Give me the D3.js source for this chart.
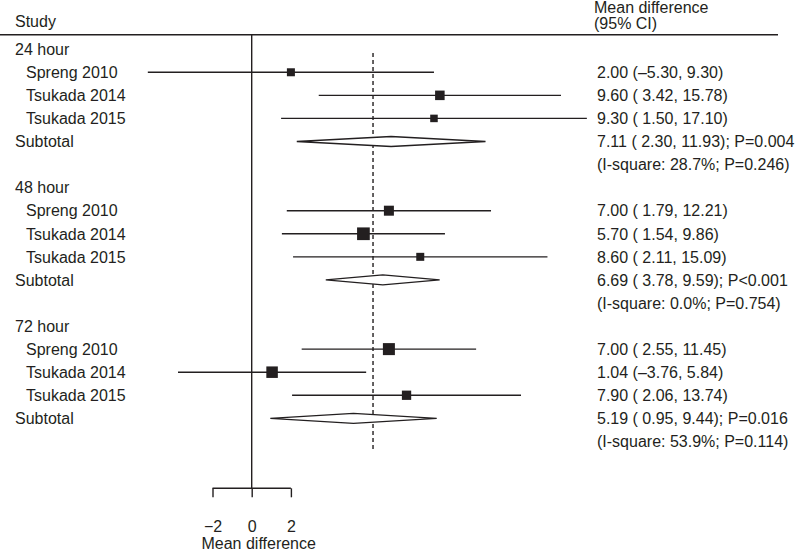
<!DOCTYPE html>
<html>
<head>
<meta charset="utf-8">
<script src="https://cdn.jsdelivr.net/npm/d3@7"></script>
<style>
  body { margin: 0; background: #fff; }
  svg { font-family: "Liberation Sans", Arial, Helvetica, sans-serif; }
</style>
</head>
<body>
<svg id="chart" width="800" height="550"></svg>
<script>
// groups and studies
const groups = ["24 hour", "48 hour", "72 hour"];
const studies = ["Spreng 2010", "Tsukada 2014", "Tsukada 2015"];

// study estimates per group (mean difference, lower, upper)
const studyMean = [[2.00, 9.60, 9.30], [7.00, 5.70, 8.60], [7.00, 1.04, 7.90]];
const studyLower = [[-5.30, 3.42, 1.50], [1.79, 1.54, 2.11], [2.55, -3.76, 2.06]];
const studyUpper = [[9.30, 15.78, 17.10], [12.21, 9.86, 15.09], [11.45, 5.84, 13.74]];
const studyWeight = [[7.1, 10.1, 6.3], [11.1, 17.9, 7.1], [16.0, 14.7, 9.6]];

// subtotals per group
const subMean = [7.11, 6.69, 5.19];
const subLower = [2.30, 3.78, 0.95];
const subUpper = [11.93, 9.59, 9.44];
const subP = ["P=0.004", "P<0.001", "P=0.016"];
const iSquare = ["28.7%", "0.0%", "53.9%"];
const hetP = ["0.246", "0.754", "0.114"];

const overall = 6.19;
const tickValues = [-2, 0, 2];

const fmt = d3.format(".2f");
const ciText = (m, l, u) => {
  const f = v => v < 0 ? "\u2013" + fmt(-v) : " " + fmt(v);
  return fmt(m) + " (" + f(l) + ", " + fmt(u) + ")";
};

const svg = d3.select("#chart");
const ink = "#231f20";
const fontSize = 16;

const x = d3.scaleLinear().domain([0, 10]).range([251.7, 447.7]);
const rowY = d3.scaleLinear().domain([0, 1]).range([49.2, 72.27]);
const sq = d3.scaleSqrt().domain([0, 100]).range([0, 30]);

// header
svg.append("text").attr("x", 15).attr("y", 27).text("Study")
  .attr("font-size", fontSize).attr("fill", ink);
svg.append("text").attr("x", 594).attr("y", 12.5).text("Mean difference")
  .attr("font-size", fontSize).attr("fill", ink);
svg.append("text").attr("x", 594).attr("y", 28.5).text("(95% CI)")
  .attr("font-size", fontSize).attr("fill", ink);
svg.append("line").attr("x1", 0).attr("x2", 778).attr("y1", 34.7).attr("y2", 34.7)
  .attr("stroke", ink).attr("stroke-width", 1.6);

// zero line
svg.append("line").attr("x1", x(0)).attr("x2", x(0)).attr("y1", 34.7).attr("y2", 488.3)
  .attr("stroke", ink).attr("stroke-width", 1.4);

// overall dashed line
svg.append("line").attr("x1", x(overall)).attr("x2", x(overall))
  .attr("y1", 53).attr("y2", rowY(17) + 10)
  .attr("stroke", ink).attr("stroke-width", 1.4).attr("stroke-dasharray", "4,3");

groups.forEach((g, gi) => {
  const base = gi * 6;
  svg.append("text").attr("x", 15).attr("y", rowY(base) + 5.8).text(g)
    .attr("font-size", fontSize).attr("fill", ink);

  studies.forEach((s, si) => {
    const y = rowY(base + 1 + si);
    svg.append("text").attr("x", 26).attr("y", y + 5.8).text(s)
      .attr("font-size", fontSize).attr("fill", ink);
    svg.append("line")
      .attr("x1", x(studyLower[gi][si])).attr("x2", x(studyUpper[gi][si]))
      .attr("y1", y).attr("y2", y)
      .attr("stroke", ink).attr("stroke-width", 1.4);
    const w = sq(studyWeight[gi][si]);
    svg.append("rect")
      .attr("x", x(studyMean[gi][si]) - w / 2).attr("y", y - w / 2)
      .attr("width", w).attr("height", w).attr("fill", ink);
    svg.append("text").attr("x", 597).attr("y", y + 5.8)
      .attr("xml:space", "preserve").style("white-space", "pre")
      .text(ciText(studyMean[gi][si], studyLower[gi][si], studyUpper[gi][si]))
      .attr("font-size", fontSize).attr("fill", ink);
  });

  const ys = rowY(base + 4);
  svg.append("text").attr("x", 15).attr("y", ys + 5.8).text("Subtotal")
    .attr("font-size", fontSize).attr("fill", ink);
  const h = 5;
  const pts = [[x(subLower[gi]), ys], [x(subMean[gi]), ys - h], [x(subUpper[gi]), ys], [x(subMean[gi]), ys + h]];
  svg.append("path").attr("d", d3.line()(pts) + "Z")
    .attr("fill", "#fff").attr("stroke", ink).attr("stroke-width", 1.3)
    .attr("stroke-linejoin", "miter");
  svg.append("text").attr("x", 597).attr("y", ys + 5.8)
    .style("white-space", "pre")
    .text(ciText(subMean[gi], subLower[gi], subUpper[gi]) + "; " + subP[gi])
    .attr("font-size", fontSize).attr("fill", ink);
  svg.append("text").attr("x", 597).attr("y", rowY(base + 5) + 5.8)
    .text("(I-square: " + iSquare[gi] + "; P=" + hetP[gi] + ")")
    .attr("font-size", fontSize).attr("fill", ink);
});

// axis bracket
const axisY = 488.3;
const axis = d3.axisBottom(x).tickValues(tickValues).tickSizeInner(9).tickSizeOuter(0)
  .tickFormat(d3.format("d"));
const ax = svg.append("g").attr("transform", `translate(0,${axisY})`).call(axis);
ax.select(".domain").remove();
ax.selectAll(".tick line").attr("stroke", ink).attr("stroke-width", 1.4);
ax.selectAll(".tick text").attr("y", 43.5).attr("dy", null)
  .attr("font-size", fontSize).attr("font-family", null).attr("fill", ink);
ax.append("line").attr("x1", x(tickValues[0])).attr("x2", x(tickValues[tickValues.length - 1]))
  .attr("y1", 0).attr("y2", 0).attr("stroke", ink).attr("stroke-width", 1.4);

svg.append("text").attr("x", x(0) + 7).attr("y", 548.5).attr("text-anchor", "middle")
  .text("Mean difference").attr("font-size", fontSize).attr("fill", ink);
</script>
</body>
</html>
